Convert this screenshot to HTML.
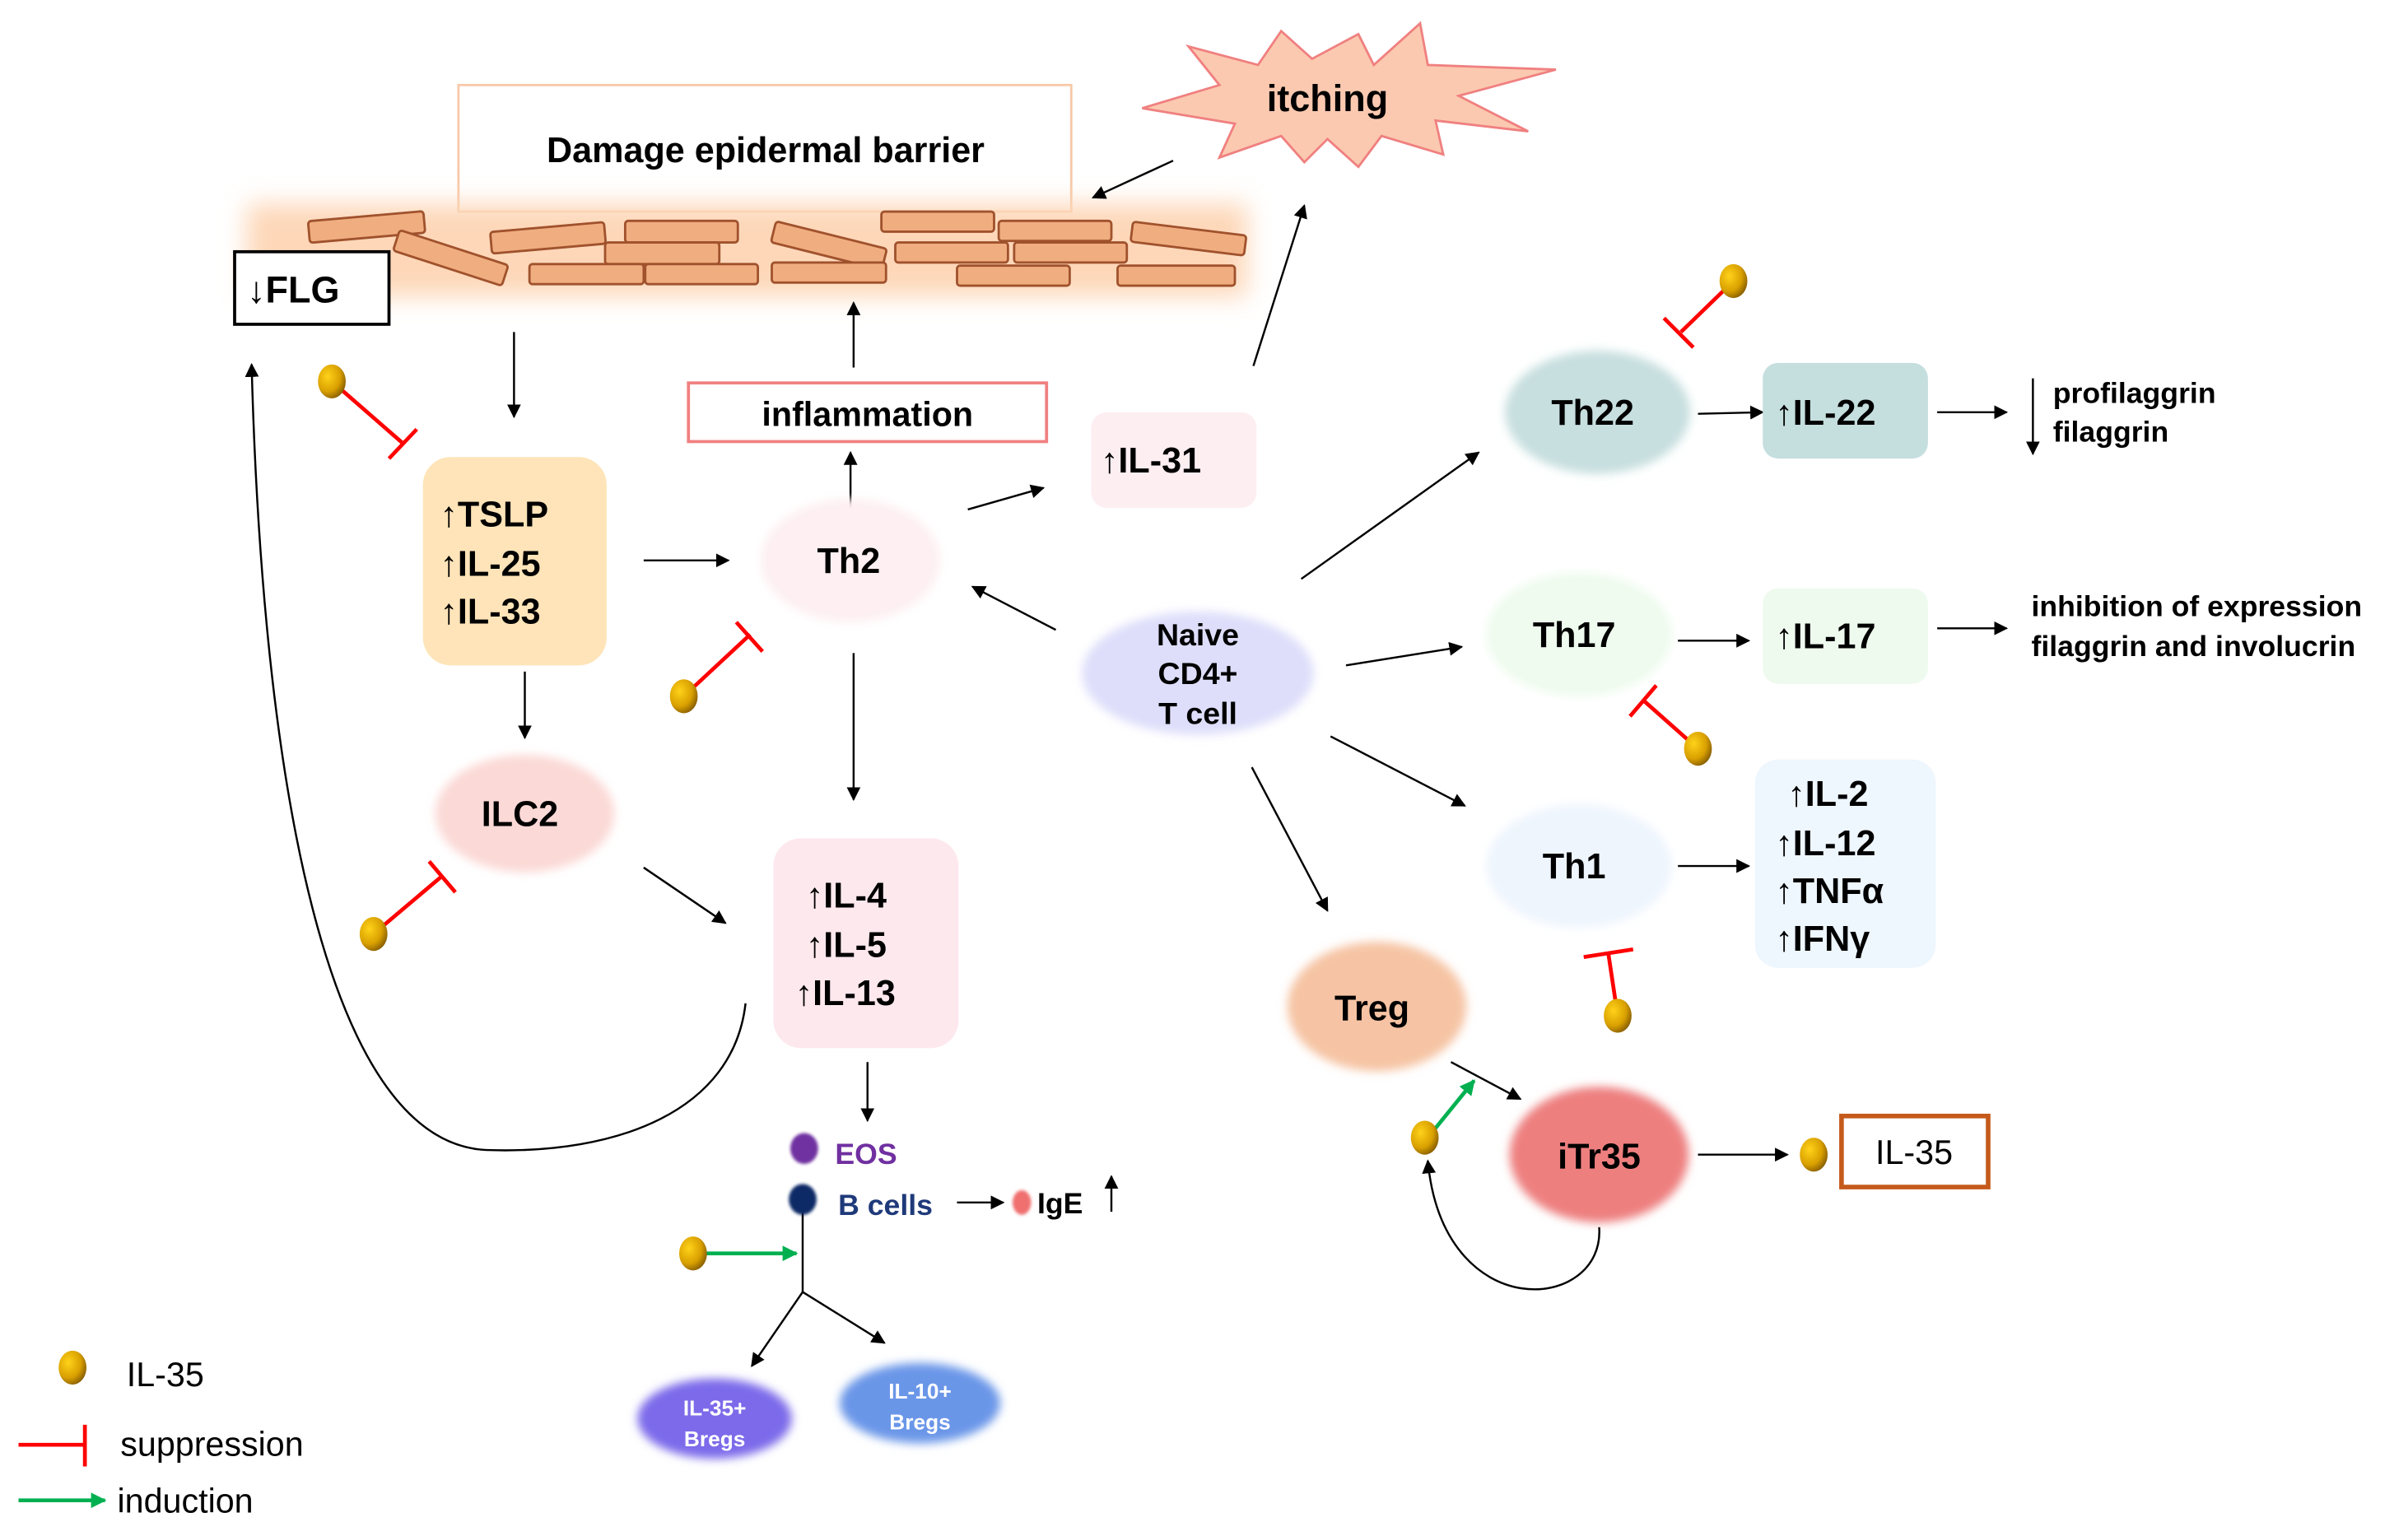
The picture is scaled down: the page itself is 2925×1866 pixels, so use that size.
<!DOCTYPE html>
<html><head><meta charset="utf-8"><style>
html,body{margin:0;padding:0;background:#fff;}
svg{display:block;}
text{font-family:"Liberation Sans",Arial,sans-serif;}
.b{font-weight:bold;}
</style></head><body>
<svg width="2925" height="1866" viewBox="0 0 1560 995" xmlns="http://www.w3.org/2000/svg">
<defs>
<marker id="ar" viewBox="0 0 10 10" refX="9" refY="5" markerWidth="9" markerHeight="9" markerUnits="userSpaceOnUse" orient="auto"><path d="M0,0L10,5L0,10z" fill="#000"/></marker>
<marker id="ag" viewBox="0 0 10 10" refX="9" refY="5" markerWidth="10" markerHeight="10" markerUnits="userSpaceOnUse" orient="auto"><path d="M0,0L10,5L0,10z" fill="#00b050"/></marker>
<radialGradient id="gold" cx="0.35" cy="0.35" r="0.75"><stop offset="0" stop-color="#ffd21a"/><stop offset="0.6" stop-color="#d9a000"/><stop offset="1" stop-color="#7a5300"/></radialGradient>
<filter id="bl" x="-20%" y="-20%" width="140%" height="140%"><feGaussianBlur stdDeviation="3"/></filter>
<filter id="bl1" x="-50%" y="-50%" width="200%" height="200%"><feGaussianBlur stdDeviation="1"/></filter>
<filter id="bl2" x="-20%" y="-50%" width="140%" height="200%"><feGaussianBlur stdDeviation="8"/></filter>
<g id="ball"><ellipse cx="0" cy="0" rx="9" ry="11" fill="url(#gold)"/></g>
</defs>

<rect x="297" y="55" width="397" height="82" fill="#fff" stroke="#f7c9a8" stroke-width="1.5"/>
<text x="496" y="105" class="b" font-size="23" text-anchor="middle">Damage epidermal barrier</text>
<rect x="160" y="132" width="648" height="60" fill="#fdd7b8" filter="url(#bl2)"/>
<g fill="#f0ae80" stroke="#a0522d" stroke-width="1.5">
<rect x="200" y="140" width="75" height="14" rx="2" transform="rotate(-5 237 147)"/>
<rect x="255" y="160" width="74" height="14" rx="2" transform="rotate(18 292 167)"/>
<rect x="318" y="147" width="74" height="14" rx="2" transform="rotate(-5 355 154)"/>
<rect x="405" y="143" width="73" height="14" rx="2"/>
<rect x="392" y="157" width="74" height="14" rx="2"/>
<rect x="343" y="171" width="74" height="13" rx="2"/>
<rect x="418" y="171" width="73" height="13" rx="2"/>
<rect x="500" y="152" width="74" height="14" rx="2" transform="rotate(14 537 159)"/>
<rect x="500" y="170" width="74" height="13" rx="2"/>
<rect x="571" y="137" width="73" height="13" rx="2"/>
<rect x="580" y="157" width="73" height="13" rx="2"/>
<rect x="647" y="143" width="73" height="13" rx="2"/>
<rect x="657" y="157" width="73" height="13" rx="2"/>
<rect x="620" y="172" width="73" height="13" rx="2"/>
<rect x="733" y="148" width="74" height="13" rx="2" transform="rotate(7 770 154)"/>
<rect x="724" y="172" width="76" height="13" rx="2"/>
</g>
<rect x="152" y="163" width="100" height="47" fill="#fff" stroke="#000" stroke-width="2"/>
<text x="160" y="196" class="b" font-size="24">↓FLG</text>

<polygon points="740,70 790,55 770,30 815,42 830,20 850,38 880,22 890,42 920,15 925,42 1008,45 945,62 990,85 930,78 935,100 895,88 880,108 860,90 845,105 830,88 790,102 800,80" fill="#fbc9b0" stroke="#f08080" stroke-width="1.5"/>
<text x="860" y="72" class="b" font-size="24" text-anchor="middle">itching</text>

<g stroke="#000" stroke-width="1.3" fill="none" marker-end="url(#ar)">
<line x1="760" y1="104" x2="708" y2="128"/>
<line x1="333" y1="215" x2="333" y2="270"/>
<line x1="340" y1="435" x2="340" y2="478"/>
<line x1="417" y1="562" x2="470" y2="598"/>
<line x1="417" y1="363" x2="472" y2="363"/>
<line x1="551" y1="333" x2="551" y2="293"/>
<line x1="553" y1="238" x2="553" y2="196"/>
<line x1="553" y1="423" x2="553" y2="518"/>
<line x1="627" y1="330" x2="676" y2="316"/>
<line x1="812" y1="237" x2="845" y2="133"/>
<line x1="684" y1="408" x2="630" y2="380"/>
<line x1="843" y1="375" x2="958" y2="293"/>
<line x1="872" y1="431" x2="947" y2="419"/>
<line x1="862" y1="477" x2="949" y2="522"/>
<line x1="811" y1="497" x2="860" y2="590"/>
<line x1="1100" y1="268" x2="1142" y2="267"/>
<line x1="1255" y1="267" x2="1300" y2="267"/>
<line x1="1317" y1="245" x2="1317" y2="294"/>
<line x1="1087" y1="415" x2="1133" y2="415"/>
<line x1="1255" y1="407" x2="1300" y2="407"/>
<line x1="1087" y1="561" x2="1133" y2="561"/>
<line x1="940" y1="688" x2="985" y2="712"/>
<line x1="1100" y1="748" x2="1158" y2="748"/>
<line x1="562" y1="688" x2="562" y2="726"/>
<line x1="620" y1="779" x2="650" y2="779"/>
<line x1="720" y1="785" x2="720" y2="762"/>
<line x1="520" y1="837" x2="487" y2="885"/>
<line x1="520" y1="837" x2="573" y2="870"/>
<path d="M1036,795 C1040,850 935,860 925,752"/>
<path d="M483,650 C475,720 400,748 315,745 C210,740 170,500 163,236"/>
</g>
<line x1="520" y1="785" x2="520" y2="838" stroke="#000" stroke-width="1.3"/>

<g stroke="#ff0000" stroke-width="2.5" fill="none">
<line x1="215" y1="247" x2="262" y2="288"/><line x1="252" y1="297" x2="270" y2="278"/>
<line x1="443" y1="451" x2="486" y2="411"/><line x1="477" y1="403" x2="494" y2="422"/>
<line x1="242" y1="605" x2="287" y2="567"/><line x1="278" y1="558" x2="295" y2="578"/>
<line x1="1123" y1="182" x2="1089" y2="215"/><line x1="1078" y1="206" x2="1097" y2="225"/>
<line x1="1100" y1="485" x2="1065" y2="454"/><line x1="1056" y1="464" x2="1073" y2="444"/>
<line x1="1048" y1="658" x2="1042" y2="618"/><line x1="1026" y1="620" x2="1058" y2="615"/>
<line x1="12" y1="936" x2="55" y2="936"/><line x1="55" y1="923" x2="55" y2="950"/>
</g>
<g stroke="#00b050" stroke-width="2.5" fill="none" marker-end="url(#ag)">
<line x1="925" y1="737" x2="955" y2="700"/>
<line x1="455" y1="812" x2="516" y2="812"/>
<line x1="12" y1="972" x2="68" y2="972"/>
</g>

<use href="#ball" x="215" y="247"/><use href="#ball" x="443" y="451"/><use href="#ball" x="242" y="605"/>
<use href="#ball" x="1123" y="182"/><use href="#ball" x="1100" y="485"/><use href="#ball" x="1048" y="658"/>
<use href="#ball" x="923" y="737"/><use href="#ball" x="1175" y="748"/><use href="#ball" x="449" y="812"/>
<use href="#ball" x="47" y="886"/>

<rect x="274" y="296" width="119" height="135" rx="18" fill="#fee4b8"/>
<text class="b" font-size="23"><tspan x="285" y="341">↑TSLP</tspan><tspan x="285" y="373">↑IL-25</tspan><tspan x="285" y="404">↑IL-33</tspan></text>
<rect x="501" y="543" width="120" height="136" rx="18" fill="#fde8ee"/>
<text class="b" font-size="23"><tspan x="522" y="588">↑IL-4</tspan><tspan x="522" y="620">↑IL-5</tspan><tspan x="515" y="651">↑IL-13</tspan></text>
<rect x="446" y="248" width="232" height="38" fill="#fff" stroke="#f08080" stroke-width="2"/>
<text x="562" y="276" class="b" font-size="22" text-anchor="middle">inflammation</text>
<rect x="707" y="267" width="107" height="62" rx="10" fill="#fdeef2"/>
<text x="713" y="306" class="b" font-size="23">↑IL-31</text>
<rect x="1142" y="235" width="107" height="62" rx="10" fill="#c5dede"/>
<text x="1150" y="275" class="b" font-size="23">↑IL-22</text>
<rect x="1142" y="381" width="107" height="62" rx="10" fill="#effaef"/>
<text x="1150" y="420" class="b" font-size="23">↑IL-17</text>
<rect x="1137" y="492" width="117" height="135" rx="15" fill="#eef6fe"/>
<text class="b" font-size="23"><tspan x="1158" y="522">↑IL-2</tspan><tspan x="1150" y="554">↑IL-12</tspan><tspan x="1150" y="585">↑TNFα</tspan><tspan x="1150" y="616">↑IFNγ</tspan></text>
<rect x="1193" y="723" width="95" height="46" fill="#fff" stroke="#c55a1b" stroke-width="3"/>
<text x="1240" y="754" font-size="22" text-anchor="middle">IL-35</text>
<text class="b" font-size="19"><tspan x="1330" y="261">profilaggrin</tspan><tspan x="1330" y="286">filaggrin</tspan></text>
<text class="b" font-size="19"><tspan x="1316" y="399">inhibition of expression</tspan><tspan x="1316" y="425">filaggrin and involucrin</tspan></text>

<g filter="url(#bl)">
<ellipse cx="340" cy="527" rx="58" ry="38" fill="#fbd9d6"/>
<ellipse cx="551" cy="363" rx="58" ry="40" fill="#fdeff2"/>
<ellipse cx="776" cy="436" rx="75" ry="40" fill="#dedefb"/>
<ellipse cx="1035" cy="267" rx="60" ry="40" fill="#c8dfdf"/>
<ellipse cx="1023" cy="411" rx="60" ry="40" fill="#eefbee"/>
<ellipse cx="1023" cy="561" rx="60" ry="40" fill="#eef5fd"/>
<ellipse cx="892" cy="652" rx="58" ry="42" fill="#f6c4a4"/>
<ellipse cx="1036" cy="748" rx="58" ry="44" fill="#ee7f7f"/>
<ellipse cx="463" cy="919" rx="50" ry="26" fill="#7b6bea"/>
<ellipse cx="596" cy="909" rx="52" ry="26" fill="#6a96e8"/>
</g>
<g filter="url(#bl1)">
<ellipse cx="521" cy="744" rx="9" ry="10" fill="#7030a0"/>
<ellipse cx="520" cy="777" rx="9" ry="10" fill="#0c2a66"/>
<ellipse cx="662" cy="779" rx="6" ry="8" fill="#f07070"/>
</g>
<text class="b" font-size="23" text-anchor="middle">
<tspan x="340" y="535">ILC2</tspan>
<tspan x="553" y="371">Th2</tspan>
<tspan x="1035" y="275">Th22</tspan>
<tspan x="1023" y="419">Th17</tspan>
<tspan x="1023" y="569">Th1</tspan>
<tspan x="892" y="661">Treg</tspan>
<tspan x="1036" y="757">iTr35</tspan>
</text>
<text class="b" font-size="20" text-anchor="middle"><tspan x="776" y="418">Naive</tspan><tspan x="776" y="443">CD4+</tspan><tspan x="776" y="469">T cell</tspan></text>
<text class="b" font-size="14" fill="#fff" text-anchor="middle"><tspan x="463" y="917">IL-35+</tspan><tspan x="463" y="937">Bregs</tspan><tspan x="596" y="906">IL-10+</tspan><tspan x="596" y="926">Bregs</tspan></text>
<text x="541" y="754" class="b" font-size="19" fill="#7030a0">EOS</text>
<text x="543" y="787" class="b" font-size="19" fill="#1f3a7a">B cells</text>
<text x="672" y="786" class="b" font-size="19">IgE</text>

<text x="82" y="898" font-size="22">IL-35</text>
<text x="78" y="943" font-size="22">suppression</text>
<text x="76" y="980" font-size="22">induction</text>
</svg>
</body></html>
